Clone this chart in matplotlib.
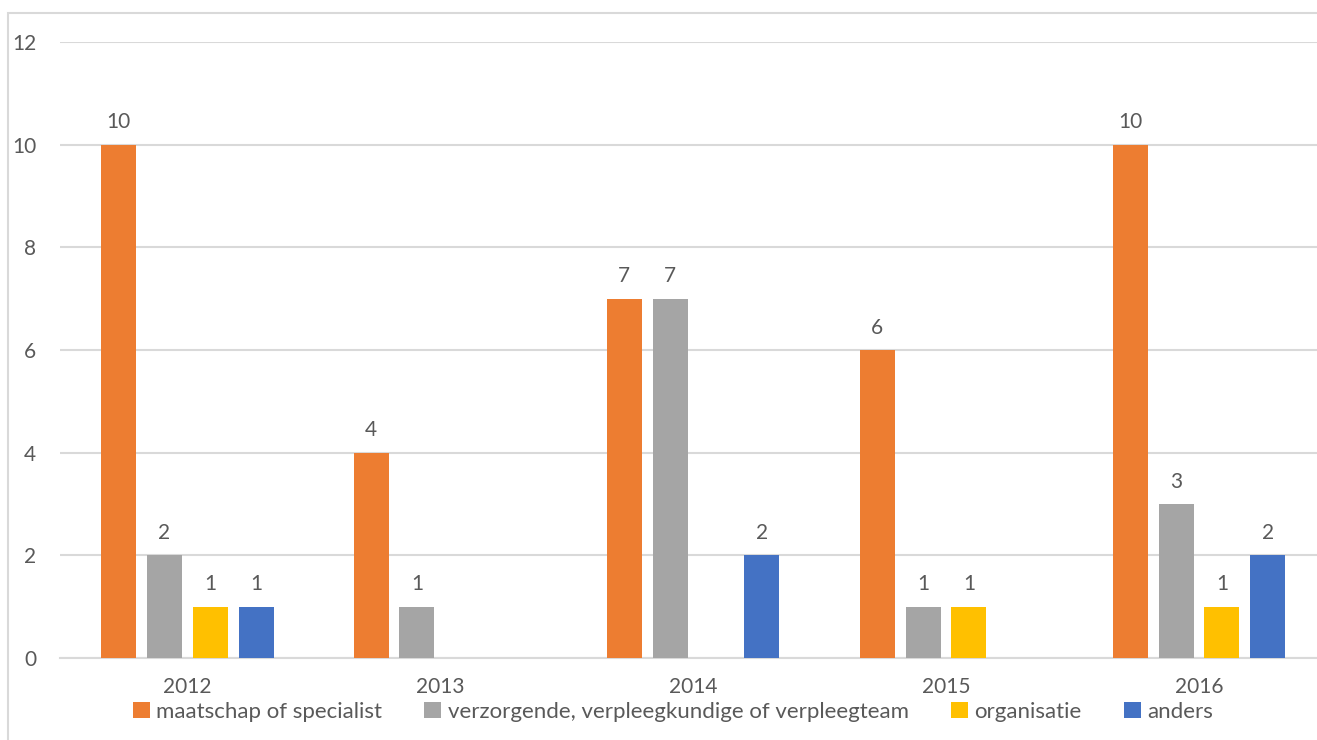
import matplotlib
matplotlib.use("Agg")
import matplotlib.pyplot as plt
from matplotlib.patches import Rectangle
import numpy as np

plt.rcParams['font.family'] = ['Lato', 'DejaVu Sans']

years = ['2012', '2013', '2014', '2015', '2016']
series_names = ['maatschap of specialist',
                'verzorgende, verpleegkundige of verpleegteam',
                'organisatie', 'anders']
maatschap = [10, 4, 7, 6, 10]
verzorgende = [2, 1, 7, 1, 3]
organisatie = [1, 0, 0, 1, 1]
anders = [1, 0, 2, 0, 2]
colors = ['#ED7D31', '#A5A5A5', '#FFC000', '#4472C4']
yticks = [0, 2, 4, 6, 8, 10, 12]

W, H = 1317, 740
fig = plt.figure(figsize=(W / 100, H / 100), dpi=100)
text_color = '#595959'
grid_color = '#D9D9D9'

# outer frame (partially clipped like reference)
fig.patches.append(Rectangle((8 / W, -0.1), 1.2, (740 - 13) / H + 0.1,
                             transform=fig.transFigure, fill=False,
                             edgecolor=grid_color, linewidth=1.5))

ax_left, ax_right = 60, 1317
ax_top, ax_bot = 42, 658
ax = fig.add_axes([ax_left / W, (H - ax_bot) / H,
                   (ax_right - ax_left) / W, (ax_bot - ax_top) / H])

cat_w = 253.0
x = np.arange(len(years))
ax.set_xlim((ax_left - 187) / cat_w, (ax_right - 187) / cat_w)
ax.set_ylim(0, 12)

all_series = [maatschap, verzorgende, organisatie, anders]
step = 46 / cat_w
bw = 35 / cat_w
for i, (vals, c, name) in enumerate(zip(all_series, colors, series_names)):
    pos = x + (i - 1.5) * step
    ax.bar(pos, vals, width=bw, color=c, label=name, zorder=3)
    for p, v in zip(pos, vals):
        if v > 0:
            ax.annotate(str(v), (p, v), xytext=(0, 9), textcoords='offset points',
                        ha='center', va='bottom', fontsize=15, color=text_color)

ax.set_yticks(yticks)
ax.yaxis.grid(True, color=grid_color, linewidth=1.5, zorder=0)
ax.set_axisbelow(True)
for s in ['top', 'right', 'left']:
    ax.spines[s].set_visible(False)
ax.spines['bottom'].set_color(grid_color)
ax.spines['bottom'].set_linewidth(1.5)
ax.tick_params(axis='y', length=0, labelsize=15, labelcolor=text_color, pad=17)
ax.tick_params(axis='x', length=0, labelsize=15, labelcolor=text_color, pad=14)
ax.set_xticks(x)
ax.set_xticklabels(years)
ax.patch.set_alpha(0)

fig.legend(loc='center', bbox_to_anchor=(673 / W, (H - 712) / H), ncol=4,
           frameon=False, fontsize=16, labelcolor=text_color,
           handlelength=0.75, handleheight=0.75, handletextpad=0.3,
           columnspacing=1.9)

fig.savefig('out.png', dpi=100)
